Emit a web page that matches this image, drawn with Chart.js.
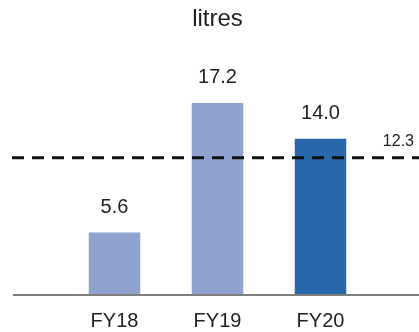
<!DOCTYPE html>
<html>
<head>
<meta charset="utf-8">
<script src="https://cdn.jsdelivr.net/npm/chart.js@4/dist/chart.umd.min.js"></script>
<style>
  html, body { margin: 0; padding: 0; background: #fff; overflow: hidden; }
  #wrap { width: 419px; height: 332px; }
</style>
</head>
<body>
<div id="wrap"><canvas id="chart" width="419" height="332"></canvas></div>
<script>
// Data
const years = ["FY18", "FY19", "FY20"];
const litres = [5.6, 17.2, 14.0];
const average = 12.3;
const unitTitle = "litres";

const barColors = ["#8fa3d1", "#8fa3d1", "#2967ab"];
const FONT = "'Liberation Sans', Arial, sans-serif";

// Value labels, baseline and average line
const overlay = {
    id: "overlay",
    afterDatasetsDraw(chart){
        const ctx = chart.ctx;
        const y = chart.scales.y;
        const meta = chart.getDatasetMeta(0);

        // baseline
        const y0 = y.getPixelForValue(0);
        ctx.save();
        ctx.strokeStyle = "#7f7f7f";
        ctx.lineWidth = 2;
        ctx.beginPath();
        ctx.moveTo(13, y0);
        ctx.lineTo(chart.width, y0);
        ctx.stroke();

        // dashed average
        const ya = y.getPixelForValue(average);
        ctx.strokeStyle = "#111";
        ctx.lineWidth = 3;
        ctx.setLineDash([12, 8]);
        ctx.beginPath();
        ctx.moveTo(12, ya);
        ctx.lineTo(chart.width, ya);
        ctx.stroke();
        ctx.setLineDash([]);

        ctx.fillStyle = "#222";
        ctx.font = "16px " + FONT;
        ctx.textAlign = "right";
        ctx.textBaseline = "alphabetic";
        ctx.fillText(average.toFixed(1), 414, ya - 12);

        // bar values
        ctx.font = "20px " + FONT;
        ctx.textAlign = "center";
        meta.data.forEach((bar, i) => {
            ctx.fillText(litres[i].toFixed(1), bar.x, bar.y - 20);
        });
        ctx.restore();
    }
};

new Chart(document.getElementById("chart"), {
    type: "bar",
    data: {
        labels: years,
        datasets: [{
            data: litres,
            backgroundColor: barColors,
            borderWidth: 0,
            barPercentage: 0.5,
            categoryPercentage: 1
        }]
    },
    options: {
        responsive: false,
        animation: false,
        layout: { padding: { left: 63, right: 47, top: 0, bottom: -15 } },
        plugins: {
            legend: { display: false },
            tooltip: { enabled: false },
            title: {
                display: true,
                text: unitTitle,
                color: "#222",
                font: { family: FONT, size: 24, weight: "normal" },
                padding: { top: 5, bottom: 38 }
            }
        },
        scales: {
            x: {
                grid: { display: false, drawTicks: false },
                border: { display: false },
                ticks: { color: "#222", font: { family: FONT, size: 20 }, padding: 14 }
            },
            y: {
                display: false,
                min: 0,
                max: 20
            }
        }
    },
    plugins: [overlay]
});
</script>
</body>
</html>
